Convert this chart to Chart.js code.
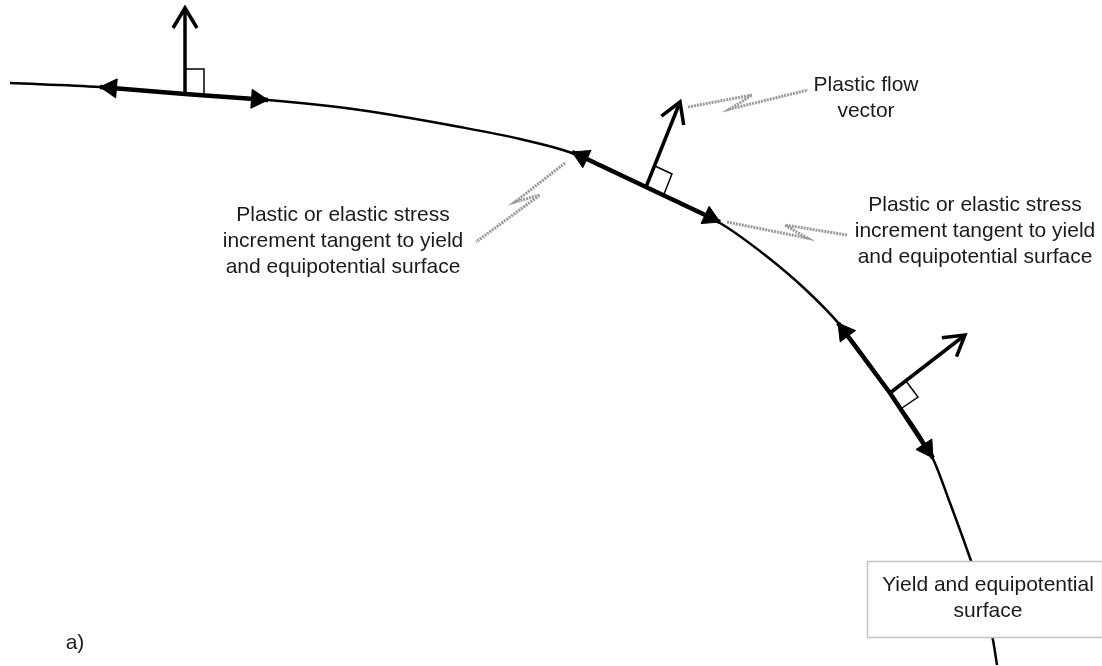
<!DOCTYPE html>
<html>
<head>
<meta charset="utf-8">
<title>Superfície de escoamento</title>
<script src="https://cdn.jsdelivr.net/npm/chart.js@4.4.0/dist/chart.umd.min.js"></script>
<style>
  body { margin: 0; background: #fff; }
  #caixa { position: relative; width: 1102px; height: 666px; }
</style>
</head>
<body>
<div id="caixa"><canvas id="grafico"></canvas></div>
<script>
// pontos da curva (superficie de escoamento)
const curva = [[10, 83], [100, 87], [185, 94], [268, 100], [360, 110], [460, 127], [520, 139],
  [572, 153], [646, 187], [720, 223], [765, 255], [805, 289], [840, 325], [890, 393],
  [933, 459], [950, 503], [970, 558], [984, 600], [993, 640], [997, 665]];

// incrementos tangentes: ponta inicial, base, ponta final
const tangInicio = [[100, 87], [572, 152], [838, 323]];
const tangBase = [[185, 94], [646, 187], [890, 393]];
const tangFim = [[268, 100], [720, 222], [933, 458]];

// vetor de fluxo plastico (normal) - ponta
const normalPonta = [[185, 8], [680, 102], [965, 335]];

// marcas de angulo reto
const angulosRetos = [
  [[185, 69], [204, 69], [204, 93]],
  [[655, 166], [672, 174], [664, 194]],
  [[906, 381], [918, 397], [902, 408]]
];

// linhas de chamada cinza (zigue-zague)
const chamadas = [
  [[688, 107], [752, 95], [730, 109], [808, 90]],
  [[565, 163], [515, 202], [540, 195], [476, 242]],
  [[727, 222], [807, 238], [785, 225], [847, 235]]
];

// textos
const textos = [
  ["Plastic flow", "vector"],
  ["Plastic or elastic stress", "increment tangent to yield", "and equipotential surface"],
  ["Plastic or elastic stress", "increment tangent to yield", "and equipotential surface"],
  ["Yield and equipotential", "surface"],
  ["a)"]
];
const textoPos = [[866, 85], [343, 215], [975, 205], [988, 585], [75, 643]];
const caixaLegenda = [867, 561, 1102, 637];

const FONTE = '21px "Liberation Sans", Arial, sans-serif';
const ENTRELINHA = 26;
const RAIO_PONTA = 11;

function linha(pts, cor, larg, extra) {
  return Object.assign({
    type: "scatter",
    showLine: true,
    data: pts.map((p) => ({ x: p[0], y: p[1] })),
    borderColor: cor,
    backgroundColor: cor,
    borderWidth: larg,
    pointRadius: 0,
    pointHoverRadius: 0,
    fill: false,
    clip: false,
    tension: 0,
  }, extra || {});
}

const datasets = [];

// curva
datasets.push(linha(curva, "#000", 2.5, { cubicInterpolationMode: "monotone" }));

// tangentes grossas
tangBase.forEach((b, i) => {
  datasets.push(linha([tangInicio[i], b, tangFim[i]], "#000", 4.5));
});

// normais com ponta aberta
normalPonta.forEach((p, i) => {
  const b = tangBase[i];
  const dx = p[0] - b[0], dy = p[1] - b[1], d = Math.hypot(dx, dy);
  const ux = dx / d, uy = dy / d;
  const asaA = [p[0] - 20 * ux - 12 * uy, p[1] - 20 * uy + 12 * ux];
  const asaB = [p[0] - 20 * ux + 12 * uy, p[1] - 20 * uy - 12 * ux];
  datasets.push(linha([b, p], "#000", 3.5));
  datasets.push(linha([asaA, p, asaB], "#000", 3.5, { borderJoinStyle: "miter" }));
});

// angulo reto
angulosRetos.forEach((q) => datasets.push(linha(q, "#000", 1.5)));

// chamadas
chamadas.forEach((c) => datasets.push(linha(c, "#999", 3, { borderDash: [2, 1] })));

// pontas cheias nas tangentes
const pontas = [];
tangBase.forEach((b, i) => {
  [tangInicio[i], tangFim[i]].forEach((p) => {
    const dx = p[0] - b[0], dy = p[1] - b[1], d = Math.hypot(dx, dy);
    pontas.push({
      x: p[0] - RAIO_PONTA * dx / d,
      y: p[1] - RAIO_PONTA * dy / d,
      rot: Math.atan2(dx / d, -dy / d) * 180 / Math.PI,
    });
  });
});
datasets.push({
  type: "scatter",
  data: pontas.map((p) => ({ x: p.x, y: p.y })),
  pointStyle: "triangle",
  pointRadius: RAIO_PONTA,
  pointHoverRadius: RAIO_PONTA,
  pointRotation: pontas.map((p) => p.rot),
  backgroundColor: "#000",
  borderColor: "#000",
  borderWidth: 1,
  clip: false,
});

// textos e caixa
const rotulos = {
  id: "rotulos",
  afterDatasetsDraw(chart) {
    const ctx = chart.ctx;
    const sx = chart.scales.x, sy = chart.scales.y;
    ctx.save();

    const x0 = sx.getPixelForValue(caixaLegenda[0]), y0 = sy.getPixelForValue(caixaLegenda[1]);
    const x1 = sx.getPixelForValue(caixaLegenda[2]), y1 = sy.getPixelForValue(caixaLegenda[3]);
    ctx.fillStyle = "#fff";
    ctx.fillRect(x0, y0, x1 - x0, y1 - y0);
    ctx.strokeStyle = "#c4c4c4";
    ctx.lineWidth = 1.5;
    ctx.strokeRect(x0 + 0.5, y0 + 0.5, x1 - x0, y1 - y0);

    ctx.font = FONTE;
    ctx.fillStyle = "#1a1a1a";
    ctx.textAlign = "center";
    ctx.textBaseline = "middle";
    textos.forEach((linhas, i) => {
      const px = sx.getPixelForValue(textoPos[i][0]);
      const py = sy.getPixelForValue(textoPos[i][1]);
      linhas.forEach((t, j) => ctx.fillText(t, px, py + j * ENTRELINHA));
    });
    ctx.restore();
  },
};

new Chart(document.getElementById("grafico").getContext("2d"), {
  type: "scatter",
  data: { datasets },
  options: {
    responsive: true,
    maintainAspectRatio: false,
    animation: false,
    events: [],
    layout: { padding: 0, autoPadding: false },
    plugins: {
      legend: { display: false },
      tooltip: { enabled: false },
    },
    scales: {
      x: { type: "linear", min: 0, max: 1102, display: false },
      y: { type: "linear", min: 0, max: 666, reverse: true, display: false },
    },
  },
  plugins: [rotulos],
});
</script>
</body>
</html>
